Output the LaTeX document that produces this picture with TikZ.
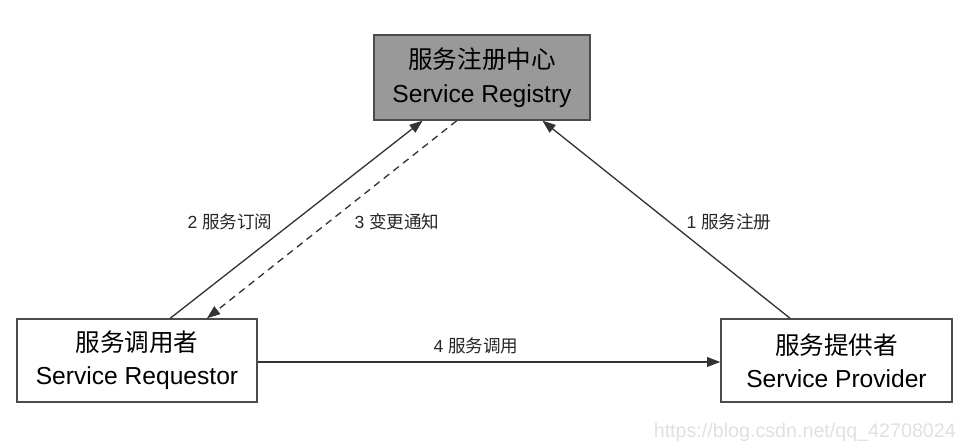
\documentclass[tikz,border=0pt]{standalone}
\usepackage{fontspec}
\setmainfont{Liberation Sans}
\newfontfamily\cjk{Noto Sans CJK SC}
\usetikzlibrary{arrows.meta,calc}

\begin{document}
\begin{tikzpicture}[x=0.02cm,y=-0.02cm,
    box/.style={draw=black!70,line width=0.8pt,align=center,inner sep=0pt,
      font=\fontsize{14}{19}\selectfont},
    lbl/.style={font=\fontsize{10}{12}\selectfont,text=black!85},
    flow/.style={draw=black!80,line width=0.75pt,-{Triangle[length=7.5pt,width=5.5pt]}},
    notify/.style={flow,dash pattern=on 4pt off 3pt}]
  \useasboundingbox (0,0) rectangle (967,448);
  \node[box,fill=black!40,minimum width=4.32cm,minimum height=1.7cm] (reg) at (482,77.5)
    {{\cjk 服务注册中心}\\Service Registry};
  \node[box,minimum width=4.8cm,minimum height=1.66cm] (req) at (137,360.5)
    {{\cjk 服务调用者}\\Service Requestor};
  \node[box,minimum width=4.62cm,minimum height=1.66cm] (prov) at (836.5,360.5)
    {{\cjk 服务提供者}\\Service Provider};

  \draw[flow] ($(prov.north west)!0.3!(prov.north east)$) -- ($(reg.south west)!0.778!(reg.south east)$);
  \draw[flow] ($(req.north west)!0.6375!(req.north east)$) -- ($(reg.south west)!0.227!(reg.south east)$);
  \draw[notify] ($(reg.south west)!0.384!(reg.south east)$) -- ($(req.north west)!0.79!(req.north east)$);
  \draw[flow] (req.east |- 0,362) -- (prov.west |- 0,362);

  \node[lbl] (l1) at (729,222) {1 {\cjk 服务注册}};
  \node[lbl] (l2) at (230,222) {2 {\cjk 服务订阅}};
  \node[lbl] (l3) at (397,222) {3 {\cjk 变更通知}};
  \node[lbl] (l4) at (476,346) {4 {\cjk 服务调用}};
  \node[font=\fontsize{11.2}{13}\selectfont,text=black!12,anchor=east] (mark) at (962,432)
    {https://blog.csdn.net/qq\_42708024};
\end{tikzpicture}
\end{document}
